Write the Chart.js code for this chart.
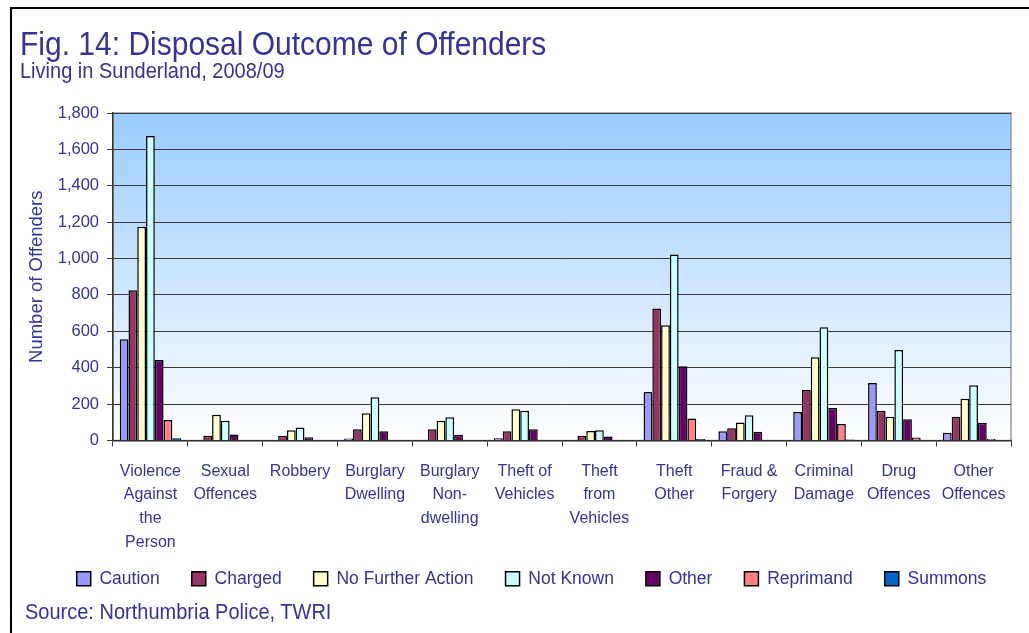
<!DOCTYPE html>
<html>
<head>
<meta charset="utf-8">
<script src="https://cdn.jsdelivr.net/npm/chart.js@4/dist/chart.umd.min.js"></script>
<style>
  html, body { margin: 0; padding: 0; background: #ffffff; }
  #wrap { position: relative; width: 1029px; height: 633px; overflow: hidden; }
  #frame { position: absolute; left: 10px; top: 7px; width: 1030px; height: 640px;
           border-top: 2px solid #000; border-left: 2px solid #000; }
  .txt { position: absolute; font-family: 'Liberation Sans', Arial, sans-serif; color: #333399;
         line-height: 1; white-space: nowrap; transform-origin: 0 100%; }
  #title { left: 20px; top: 30px; font-size: 30px; transform: scaleY(1.08); }
  #subtitle { left: 20px; top: 61px; font-size: 20px; transform: scaleY(1.1); }
  #source { left: 25px; top: 602px; font-size: 20px; transform: scaleY(1.1); }
  canvas { position: absolute; left: 0; top: 0; }
</style>
</head>
<body>
<div id="wrap">
  <canvas id="c" width="1029" height="633"></canvas>
  <div id="frame"></div>
  <div class="txt" id="title">Fig. 14: Disposal Outcome of Offenders</div>
  <div class="txt" id="subtitle">Living in Sunderland, 2008/09</div>
  <div class="txt" id="source">Source: Northumbria Police, TWRI</div>
</div>
<script>
const categories = [
  ["Violence", "Against", "the", "Person"],
  ["Sexual", "Offences"],
  ["Robbery"],
  ["Burglary", "Dwelling"],
  ["Burglary", "Non-", "dwelling"],
  ["Theft of", "Vehicles"],
  ["Theft", "from", "Vehicles"],
  ["Theft", "Other"],
  ["Fraud &", "Forgery"],
  ["Criminal", "Damage"],
  ["Drug", "Offences"],
  ["Other", "Offences"]
];
const seriesNames = ["Caution", "Charged", "No Further Action", "Not Known", "Other", "Reprimand", "Summons"];
const caution     = [557,   3,  1,  11,   3,  13,  3, 266,  51, 157, 316,  42];
const charged     = [826,  26, 26,  62,  62,  51, 25, 726,  68, 278, 163, 130];
const noFurther   = [1175, 141, 57, 150, 108, 172, 52, 633,  99, 457, 130, 229];
const notKnown    = [1674, 108, 71, 238, 128, 163, 57, 1022, 139, 623, 497, 304];
const other       = [442,  33, 18,  51,  31,  62, 22, 408,  48, 178, 117,  97];
const reprimand   = [113,   0,  0,   0,   0,   2,  0, 121,   2,  91,  17,   8];
const summons     = [13,    0,  0,   3,   0,   2,  0,   8,   0,   6,   2,   2];
const yTickValues = [0, 200, 400, 600, 800, 1000, 1200, 1400, 1600, 1800];

const seriesColors = ["#9999FF", "#993366", "#FFFFCC", "#CCFFFF", "#660066", "#FF8080", "#0066CC"];
const seriesData = [caution, charged, noFurther, notKnown, other, reprimand, summons];

const FONT = "'Liberation Sans', Arial, sans-serif";
const TEXT = "#333399";

const bgPlugin = {
  id: 'plotBg',
  beforeDraw(chart) {
    const {ctx, chartArea: a} = chart;
    const g = ctx.createLinearGradient(0, a.top, 0, a.bottom);
    g.addColorStop(0, '#99CCFF');
    g.addColorStop(1, '#FFFFFF');
    ctx.save();
    ctx.fillStyle = g;
    ctx.fillRect(a.left, a.top, a.right - a.left, a.bottom - a.top);
    ctx.strokeStyle = '#9a9a9a';
    ctx.lineWidth = 1.5;
    ctx.strokeRect(a.left, a.top, a.right - a.left, a.bottom - a.top);
    ctx.restore();
  }
};
const legendShift = {
  id: 'legendShift',
  afterLayout(chart) {
    const lg = chart.legend;
    if (lg) {
      lg.left += 26; lg.right += 26;
      lg.top -= 22.5; lg.bottom -= 22.5;
    }
  }
};

new Chart(document.getElementById('c'), {
  type: 'bar',
  data: {
    labels: categories,
    datasets: seriesNames.map((n, i) => ({
      label: n,
      data: seriesData[i],
      backgroundColor: seriesColors[i],
      borderColor: '#000000',
      borderWidth: 1.5,
      categoryPercentage: 0.82,
      barPercentage: 1.0
    }))
  },
  options: {
    responsive: false,
    animation: false,
    layout: { padding: { top: 113, right: 18, bottom: 13, left: 0 } },
    plugins: {
      title: { display: false },
      tooltip: { enabled: false },
      legend: {
        position: 'bottom',
        labels: {
          boxWidth: 14, boxHeight: 14, padding: 32,
          color: TEXT, font: { family: FONT, size: 17.5 }
        }
      }
    },
    scales: {
      x: {
        grid: { display: true, drawOnChartArea: false, drawTicks: true, tickLength: 6, color: '#333333', offset: true },
        border: { display: true, color: '#333333', width: 1.5 },
        ticks: { color: TEXT, font: { family: FONT, size: 16, lineHeight: 1.48 }, padding: 13, maxRotation: 0, autoSkip: false },
        afterFit(s) { s.height = 120; }
      },
      y: {
        min: 0, max: 1800,
        afterBuildTicks(s) { s.ticks = yTickValues.map(v => ({ value: v })); },
        grid: { color: '#3a3a3a', lineWidth: 1, tickLength: 6, drawTicks: true },
        border: { display: true, color: '#333333', width: 1.5 },
        ticks: { color: TEXT, font: { family: FONT, size: 16.5 }, padding: 8 },
        title: { display: true, text: 'Number of Offenders', color: TEXT, font: { family: FONT, size: 18.5 }, padding: { top: 26, bottom: 0 } },
        afterFit(s) { s.width = 113; }
      }
    }
  },
  plugins: [bgPlugin, legendShift]
});
</script>
</body>
</html>
